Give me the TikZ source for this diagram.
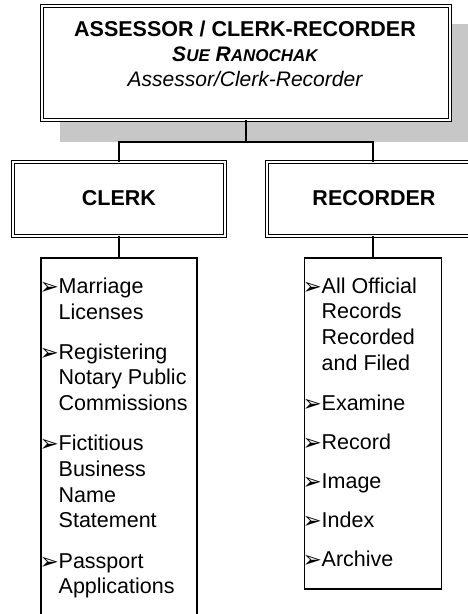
\documentclass[tikz,border=0pt]{standalone}
\usepackage{fontspec}
\setmainfont{Liberation Sans}
\newfontfamily\symfont{DejaVu Sans}
\begin{document}
\begin{tikzpicture}[x=1pt,y=-1pt,
  dbox/.style={draw=black, double=white, double distance=2.2pt, line width=1pt, fill=white, inner sep=0pt},
  conn/.style={line width=1.1pt},
  listbox/.style={draw=black, line width=1.1pt, fill=white, inner sep=0pt},
  txt/.style={inner sep=0pt, anchor=base},
  itm/.style={inner sep=0pt, anchor=base west, font=\fontsize{21.5}{25}\selectfont},
  bul/.style={inner sep=0pt, anchor=base east, font=\symfont\fontsize{23}{25}\selectfont},
  shadowfill/.style={fill=black!22},
]
\useasboundingbox (0,0) rectangle (468,614);
\clip (0,0) rectangle (468,614);

% shadow
\fill[shadowfill] (60,24) rectangle (470,142);

% boxes
\node[dbox, minimum width=407.8pt, minimum height=113.8pt] (top) at (246,63) {};
\node[dbox, minimum width=211.8pt, minimum height=73.8pt] (clerk) at (119,199) {};
\node[dbox, minimum width=211.8pt, minimum height=73.8pt] (rec) at (373,199) {};
\node[listbox, minimum width=156pt, minimum height=382pt] (clist) at (119,449) {};
\node[listbox, minimum width=137pt, minimum height=331pt] (rlist) at (373,423.5) {};

% connectors
\coordinate (j) at (246,142);
\draw[conn] (top.south) -- (j);
\draw[conn] (clerk.north) |- (j) -| (rec.north);
\draw[conn] (clerk.south) -- (clist.north);
\draw[conn] (rec.south) -- (rlist.north);

% top text
\node[txt, font=\bfseries\fontsize{21.5}{25}\selectfont] (t1) at (245,36) {ASSESSOR / CLERK-RECORDER};
\node[txt, font=\bfseries\itshape\fontsize{21}{25}\selectfont] (t2) at (245,61) {S{\fontsize{17}{20}\selectfont UE} R{\fontsize{17}{20}\selectfont ANOCHAK}};
\node[txt, font=\itshape\fontsize{21}{25}\selectfont] (t3) at (245,86) {Assessor/Clerk-Recorder};

\node[txt, font=\bfseries\fontsize{21.5}{25}\selectfont] (ct) at (119,205.7) {CLERK};
\node[txt, font=\bfseries\fontsize{21.5}{25}\selectfont] (rt) at (374,205.7) {RECORDER};

% clerk list
\foreach \y/\t/\b [count=\i] in {293.3/Marriage/1, 319/Licenses/0, 359.2/Registering/1, 384.9/Notary Public/0, 410.6/Commissions/0, 450.8/Fictitious/1, 476.5/Business/0, 502.2/Name/0, 527.9/Statement/0, 568.1/Passport/1, 593.8/Applications/0}{
  \node[itm] (c\i) at (58.5,\y) {\t};
  \ifnum\b=1 \node[bul] (cb\i) at (59,\y+1) {➢}; \fi
}
% recorder list
\foreach \y/\t/\b [count=\i] in {293/All Official/1, 318.7/Records/0, 344.4/Recorded/0, 370.1/and Filed/0, 410.3/Examine/1, 449.3/Record/1, 488.3/Image/1, 527.3/Index/1, 566.3/Archive/1}{
  \node[itm] (r\i) at (321.5,\y) {\t};
  \ifnum\b=1 \node[bul] (rb\i) at (322,\y+1) {➢}; \fi
}
\end{tikzpicture}
\end{document}
